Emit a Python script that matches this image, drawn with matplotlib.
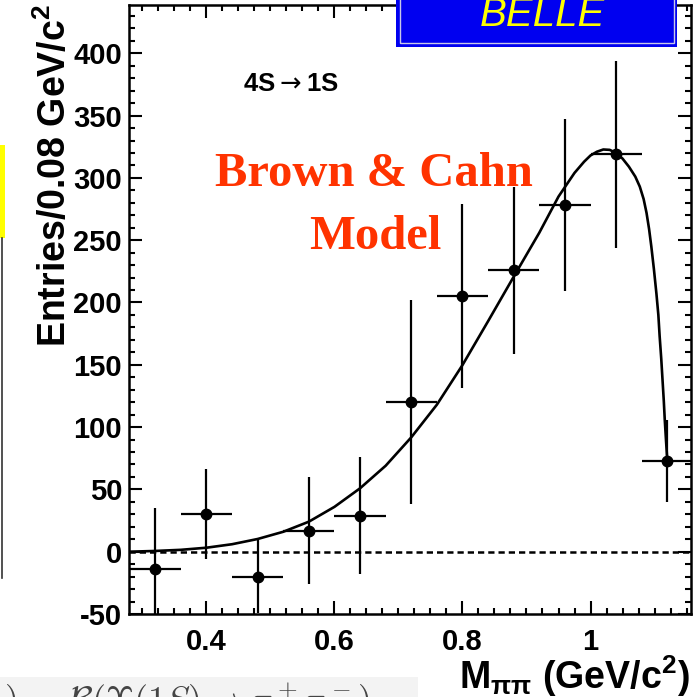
import numpy as np
import matplotlib
matplotlib.use("Agg")
import matplotlib.pyplot as plt
from matplotlib.patches import Rectangle
from matplotlib.ticker import MultipleLocator


# -----------------------------
# Data: M(pi pi) spectrum, 4S -> 1S transition
# -----------------------------
mass = np.array([0.32, 0.40, 0.48, 0.56, 0.64, 0.72, 0.80, 0.88, 0.96, 1.04, 1.12])
entries = np.array([-14, 30, -20, 17, 29, 120, 205, 226, 278, 319, 73])
entries_err = np.array([49, 36, 29, 43, 47, 82, 74, 67, 69, 75, 33])
bin_half_width = 0.04

# Brown & Cahn model curve
model_mass = np.array([0.28, 0.32, 0.36, 0.40, 0.44, 0.48, 0.52, 0.56, 0.60,
                       0.64, 0.68, 0.72, 0.76, 0.80, 0.84, 0.88, 0.92, 0.95,
                       0.975, 0.99, 1.0, 1.01, 1.02, 1.03, 1.04, 1.05, 1.06,
                       1.07, 1.077, 1.083, 1.0875, 1.0915, 1.095, 1.099,
                       1.103, 1.106, 1.108, 1.1105, 1.1125, 1.1145, 1.116,
                       1.118, 1.12])
model_entries = np.array([0, 0.6, 1.5, 3.2, 6, 10.2, 16, 24.1, 36,
                          50.9, 69, 91.8, 118, 149.8, 185, 220.7, 256, 285,
                          304, 313, 318, 321, 322.8, 322.5, 320, 315.5, 309,
                          301, 293, 283, 272, 259, 245, 227,
                          207, 190, 173, 155, 138, 121, 106,
                          89, 73])

W, H = 694, 697
SANS = ["Liberation Sans", "DejaVu Sans"]

plt.rcParams["axes.unicode_minus"] = False
plt.rcParams["mathtext.fontset"] = "custom"
plt.rcParams["mathtext.rm"] = "Liberation Sans:bold"
plt.rcParams["mathtext.bf"] = "Liberation Sans:bold"
plt.rcParams["mathtext.it"] = "Liberation Sans:bold:italic"


def px(x, y):
    # pixel position (from top-left) to figure fraction
    return x / W, 1 - y / H


# -----------------------------
# Figure and axes
# -----------------------------
fig = plt.figure(figsize=(W / 100, H / 100), dpi=100)
ax = fig.add_axes([129 / W, 1 - 614 / H, 562 / W, (614 - 4.7) / H])

ax.axhline(0, color="black", lw=1.8, ls=(0, (2.5, 1.6)), zorder=1)
ax.plot(model_mass, model_entries, color="black", lw=1.9, zorder=2)
ax.errorbar(mass, entries, xerr=bin_half_width, yerr=entries_err,
            fmt="o", color="black", ms=7.5, elinewidth=1.6, capsize=0, zorder=3)

ax.set_xlim(0.279, 1.157)
ax.set_ylim(-50, 439)

ax.xaxis.set_major_locator(MultipleLocator(0.2))
ax.xaxis.set_minor_locator(MultipleLocator(0.025))
ax.yaxis.set_major_locator(MultipleLocator(50))
ax.yaxis.set_minor_locator(MultipleLocator(10))
ax.xaxis.set_major_formatter(plt.FuncFormatter(lambda v, p: f"{v:g}"))

ax.tick_params(which="both", direction="in", top=True, right=True,
               width=1.5, color="black")
ax.tick_params(which="major", length=9.5)
ax.tick_params(which="minor", length=4.5)
ax.tick_params(axis="x", which="major", pad=10)
ax.tick_params(axis="y", which="major", pad=5)
for lab in ax.get_xticklabels() + ax.get_yticklabels():
    lab.set_family(SANS)
    lab.set_weight("bold")
    lab.set_fontsize(21)
for sp in ax.spines.values():
    sp.set_linewidth(1.8)

# -----------------------------
# Axis titles and annotations
# -----------------------------
fig.text(*px(55, 4), r"Entries/0.08 GeV/c$^{2}$", rotation=90,
         ha="center", va="top", family=SANS, weight="bold", fontsize=27)
fig.text(*px(690, 689), r"M$_{\mathrm{\pi\pi}}$ (GeV/c$^{2}$)", ha="right",
         va="baseline", family=SANS, weight="bold", fontsize=27)

fig.text(*px(291, 84), r"4S$\rightarrow$1S", ha="center", va="center",
         family=SANS, weight="bold", fontsize=18.5,
         math_fontfamily="dejavusans")

fig.text(*px(374, 174), "Brown & Cahn", ha="center", va="center",
         family="Liberation Serif", weight="bold", fontsize=35,
         color="#ff3300")
fig.text(*px(375, 237), "Model", ha="center", va="center",
         family="Liberation Serif", weight="bold", fontsize=35,
         color="#ff3300")

# -----------------------------
# Slide decorations around the plot
# -----------------------------
logo = Rectangle(px(396, 46.7), 280.7 / W, 46.7 / H,
                 transform=fig.transFigure, facecolor="#0000f0",
                 edgecolor="none", zorder=10)
fig.add_artist(logo)
frame = Rectangle(px(399.5, 43.3), 274 / W, 46 / H,
                  transform=fig.transFigure, facecolor="none",
                  edgecolor="#c8c8e8", lw=1.0, zorder=11)
fig.add_artist(frame)
fig.text(*px(542, 26), "BELLE", ha="center", va="baseline",
         family=SANS, style="italic", fontsize=29, color="#ffff00",
         zorder=12)

fig.add_artist(Rectangle(px(0, 238), 5 / W, 93 / H,
                         transform=fig.transFigure, facecolor="#ffff00",
                         edgecolor="none"))
fig.add_artist(plt.Line2D([1.5 / W, 1.5 / W], [1 - 238 / H, 1 - 578 / H],
                          transform=fig.transFigure, color="#333333", lw=1.2))

fig.add_artist(Rectangle(px(0, 697), 418 / W, 20 / H,
                         transform=fig.transFigure, facecolor="#f3f3f3",
                         edgecolor="none"))
fig.text(*px(4, 712), r"$)\quad\;\;\mathcal{B}(\Upsilon(1S)\rightarrow\pi^+\pi^-)$",
         ha="left", va="baseline", fontsize=26, math_fontfamily="cm",
         color="#444444")

fig.savefig("out.png", dpi=100)
